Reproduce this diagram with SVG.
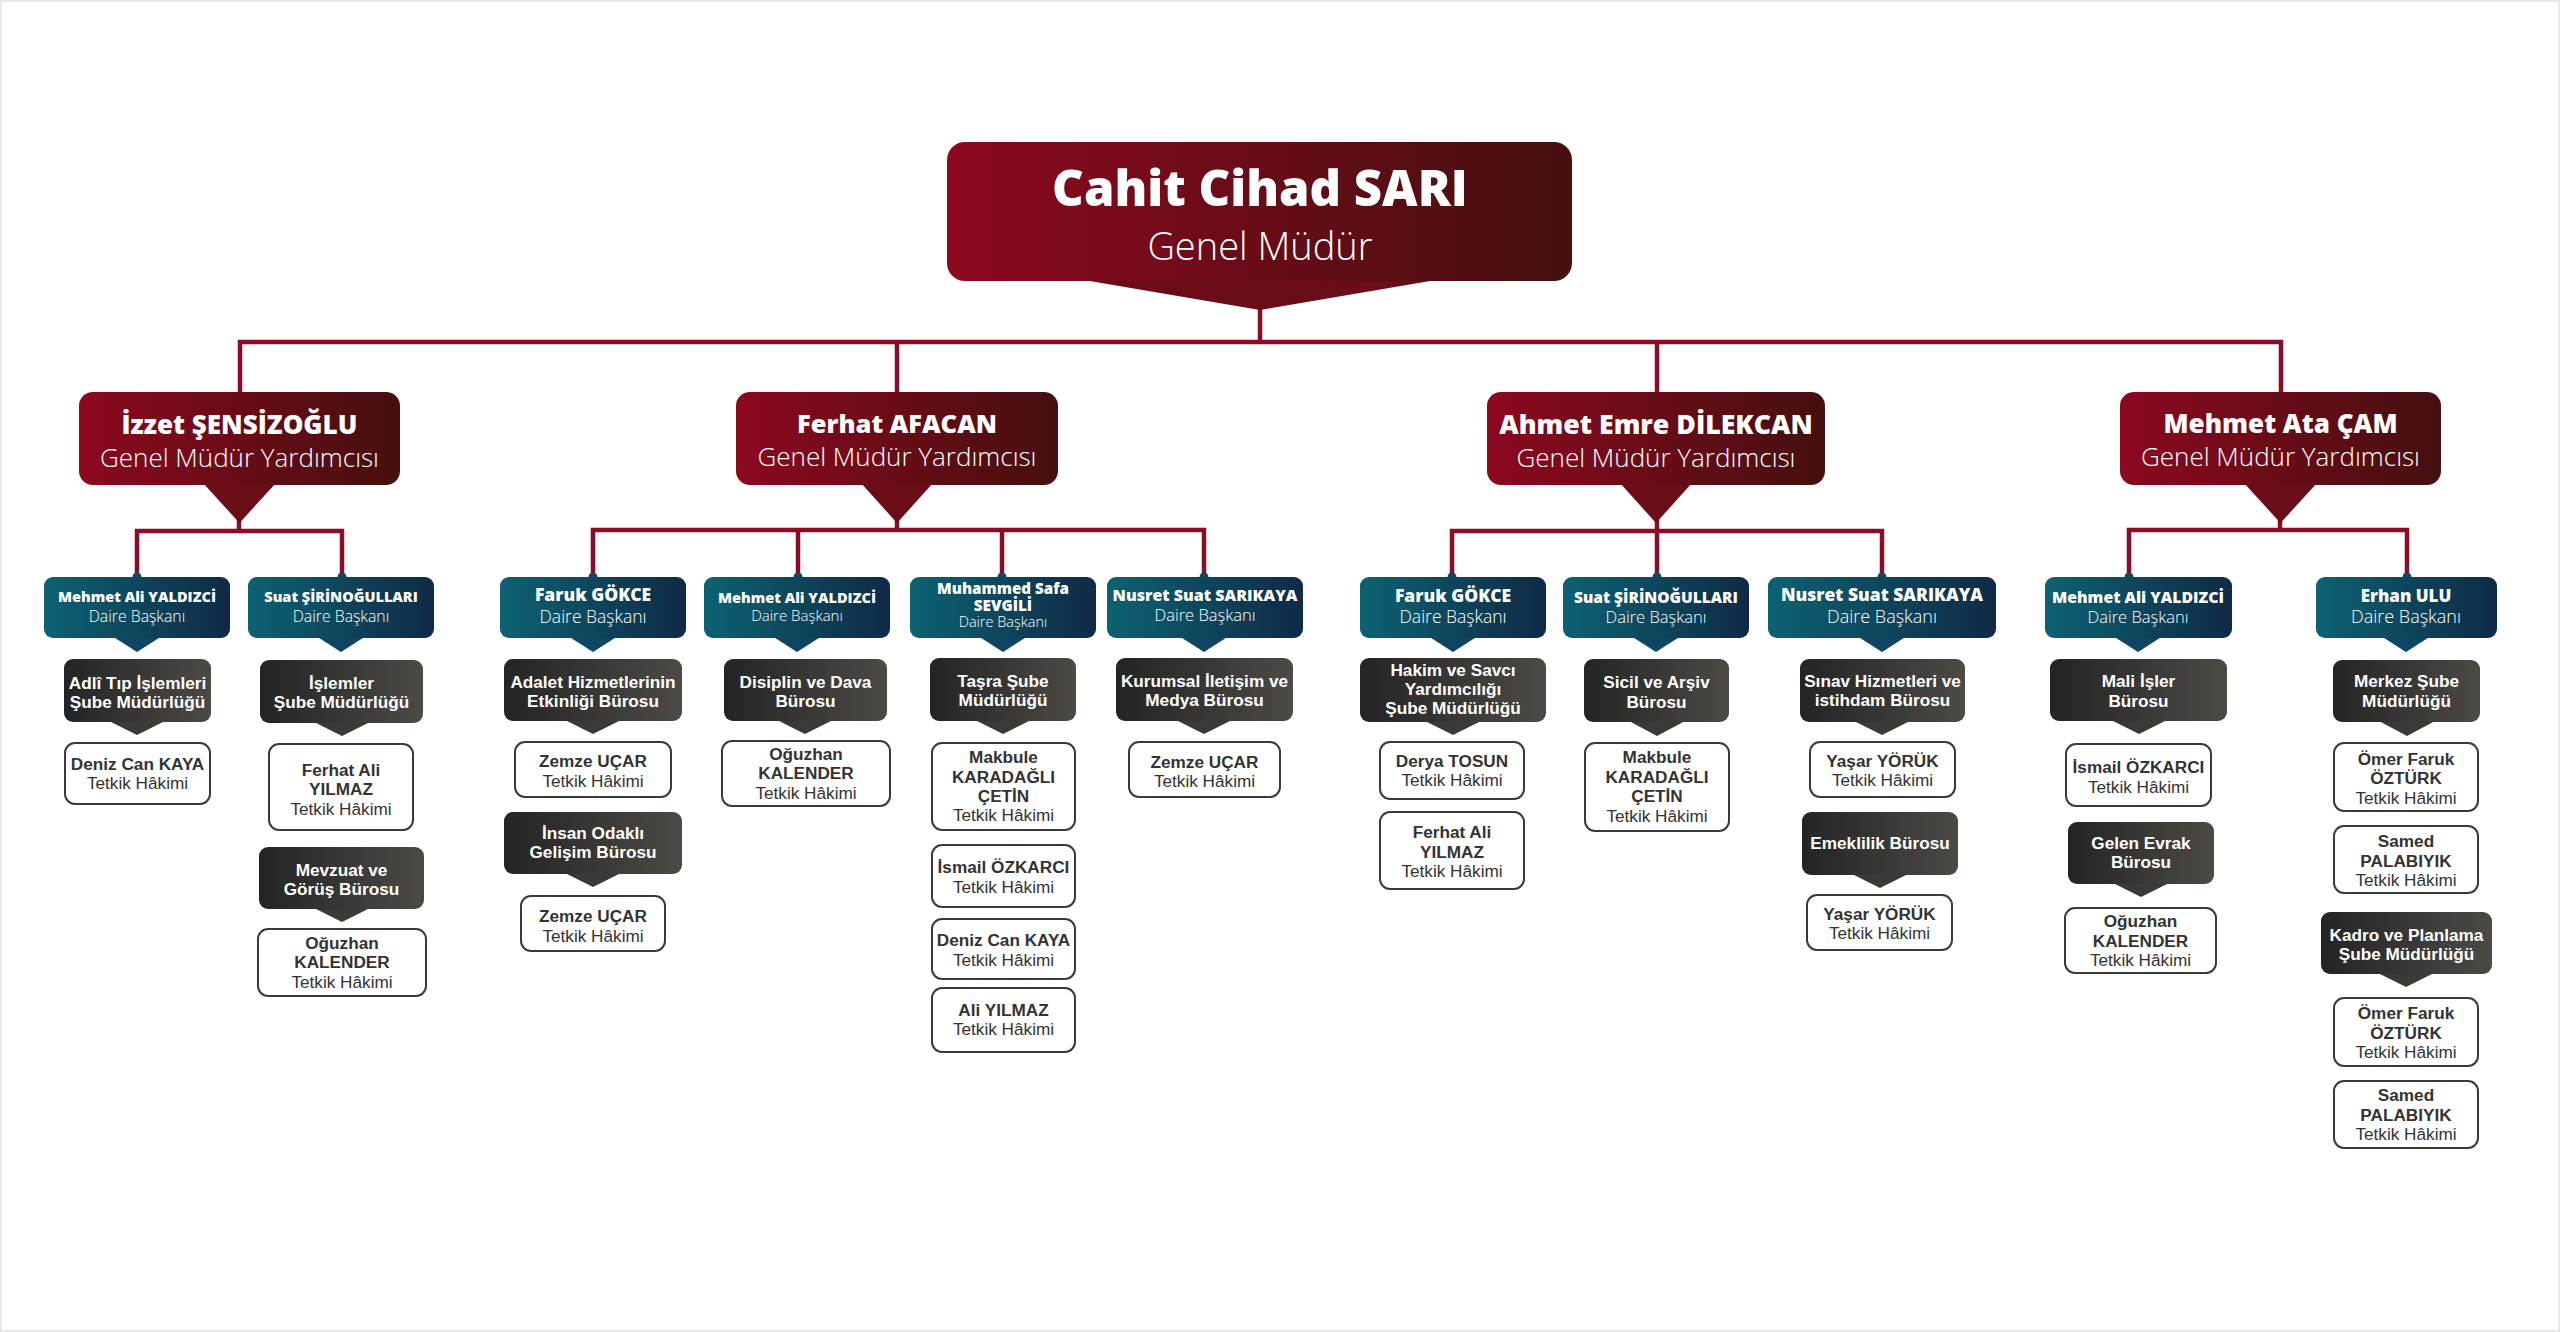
<svg xmlns="http://www.w3.org/2000/svg" width="2560" height="1332" viewBox="0 0 2560 1332">
<defs>
<linearGradient id="gRed" x1="0" y1="0" x2="1" y2="0"><stop offset="0" stop-color="#8c0820"/><stop offset="1" stop-color="#45100f"/></linearGradient>
<linearGradient id="gTeal" x1="0" y1="0" x2="1" y2="0"><stop offset="0" stop-color="#0c6272"/><stop offset="1" stop-color="#0f2a46"/></linearGradient>
<linearGradient id="gDark" x1="0" y1="0" x2="1" y2="0"><stop offset="0" stop-color="#242424"/><stop offset="1" stop-color="#4b4a45"/></linearGradient>
</defs>
<style>
.ln{fill:none;stroke:#8b0c24;stroke-width:4.5;stroke-linejoin:miter}
.dot{fill:#0f4a5e}
.red rect{fill:url(#gRed)}
.red polygon{fill:#6a0d18}
.teal rect{fill:url(#gTeal)}
.teal polygon{fill:#0e4560}
.dk rect{fill:url(#gDark)}
.dk polygon{fill:#3a3a37}
.wb rect{fill:#fff;stroke:#3a3a3a;stroke-width:2}
.nm{font-family:"Open Sans","Lato","DejaVu Sans",sans-serif;font-weight:800;fill:#fff;text-anchor:middle}
.sb{font-family:"Open Sans","Lato","DejaVu Sans",sans-serif;font-weight:300;fill:#fff;text-anchor:middle}
.bt{font-family:"Liberation Sans",Arial,sans-serif;font-size:17.2px;text-anchor:middle}
.dk text{fill:#fff;font-weight:bold}
.wb .n{fill:#333;font-weight:bold}
.wb .s{fill:#333}
</style>
<rect x="0" y="0" width="2560" height="1332" fill="#fff" stroke="#e8e8e8" stroke-width="4"/>

<g id="connectors">
<path class="ln" d="M1260,300 V342"/>
<path class="ln" d="M240,392 V342 H2281 V392"/>
<path class="ln" d="M897,342 V392"/>
<path class="ln" d="M1657,342 V392"/>
<path class="ln" d="M239,480 V531"/>
<path class="ln" d="M137,577 V531 H342 V577"/>
<path class="ln" d="M897,480 V530"/>
<path class="ln" d="M593,577 V530 H1204 V577"/>
<path class="ln" d="M798,530 V577"/>
<path class="ln" d="M1002,530 V577"/>
<path class="ln" d="M1657,480 V531"/>
<path class="ln" d="M1452,577 V531 H1882 V577"/>
<path class="ln" d="M1657,531 V577"/>
<path class="ln" d="M2280,480 V530"/>
<path class="ln" d="M2129,577 V530 H2407 V577"/>
</g>

<g id="n-gm" class="red">
<polygon points="1078,279 1260,310 1442,279"/>
<rect x="947" y="142" width="625" height="139" rx="18"/>
<text class="nm" x="1260" y="206" font-size="49">Cahit Cihad SARI</text>
<text class="sb" x="1260" y="260" font-size="38">Genel Müdür</text>
</g>

<g id="n-izzet" class="red">
<polygon points="203,483 239.5,523 276,483"/>
<rect x="79" y="392" width="321" height="93" rx="14"/>
<text class="nm" x="239.5" y="434" font-size="26">İzzet ŞENSİZOĞLU</text>
<text class="sb" x="239.5" y="467" font-size="26">Genel Müdür Yardımcısı</text>
</g>
<g id="n-ferhat" class="red">
<polygon points="861,483 897,523 933,483"/>
<rect x="736" y="392" width="322" height="93" rx="14"/>
<text class="nm" x="897" y="433" font-size="25.5">Ferhat AFACAN</text>
<text class="sb" x="897" y="466" font-size="26">Genel Müdür Yardımcısı</text>
</g>
<g id="n-ahmet" class="red">
<polygon points="1620,483 1656,523 1692,483"/>
<rect x="1487" y="392" width="338" height="93" rx="14"/>
<text class="nm" x="1656" y="434" font-size="26.7">Ahmet Emre DİLEKCAN</text>
<text class="sb" x="1656" y="467" font-size="26">Genel Müdür Yardımcısı</text>
</g>
<g id="n-mehmetata" class="red">
<polygon points="2244,483 2280.5,523 2317,483"/>
<rect x="2120" y="392" width="321" height="93" rx="14"/>
<text class="nm" x="2280.5" y="433" font-size="26">Mehmet Ata ÇAM</text>
<text class="sb" x="2280.5" y="466" font-size="26">Genel Müdür Yardımcısı</text>
</g>

<g id="dots">
<circle class="dot" cx="137" cy="577" r="4.5"/><circle class="dot" cx="342" cy="577" r="4.5"/>
<circle class="dot" cx="593" cy="577" r="4.5"/><circle class="dot" cx="798" cy="577" r="4.5"/>
<circle class="dot" cx="1002" cy="577" r="4.5"/><circle class="dot" cx="1204" cy="577" r="4.5"/>
<circle class="dot" cx="1452" cy="577" r="4.5"/><circle class="dot" cx="1657" cy="577" r="4.5"/>
<circle class="dot" cx="1882" cy="577" r="4.5"/><circle class="dot" cx="2129" cy="577" r="4.5"/>
<circle class="dot" cx="2407" cy="577" r="4.5"/>
</g>

<g id="db1" class="teal"><polygon points="112,636 137,652 162,636"/><rect x="44" y="577" width="186" height="61" rx="9"/>
<text class="nm" x="137" y="602" font-size="14.5">Mehmet Ali YALDIZCİ</text><text class="sb" x="137" y="622" font-size="15.8">Daire Başkanı</text></g>
<g id="db2" class="teal"><polygon points="316,636 341,652 366,636"/><rect x="248" y="577" width="186" height="61" rx="9"/>
<text class="nm" x="341" y="602" font-size="14.5">Suat ŞİRİNOĞULLARI</text><text class="sb" x="341" y="622" font-size="15.8">Daire Başkanı</text></g>
<g id="db3" class="teal"><polygon points="568,636 593,652 618,636"/><rect x="500" y="577" width="186" height="61" rx="9"/>
<text class="nm" x="593" y="601" font-size="17.5">Faruk GÖKCE</text><text class="sb" x="593" y="623" font-size="17.5">Daire Başkanı</text></g>
<g id="db4" class="teal"><polygon points="772,636 797,652 822,636"/><rect x="704" y="577" width="186" height="61" rx="9"/>
<text class="nm" x="797" y="603" font-size="14.5">Mehmet Ali YALDIZCİ</text><text class="sb" x="797" y="621" font-size="15">Daire Başkanı</text></g>
<g id="db5" class="teal"><polygon points="978,636 1003,652 1028,636"/><rect x="910" y="577" width="186" height="61" rx="9"/>
<text class="nm" x="1003" y="594" font-size="15.2">Muhammed Safa</text><text class="nm" x="1003" y="611" font-size="15.2">SEVGİLİ</text><text class="sb" x="1003" y="627" font-size="14.5">Daire Başkanı</text></g>
<g id="db6" class="teal"><polygon points="1179,636 1204,652 1229,636"/><rect x="1107" y="577" width="196" height="61" rx="9"/>
<text class="nm" x="1205" y="601" font-size="16">Nusret Suat SARIKAYA</text><text class="sb" x="1205" y="621" font-size="16.5">Daire Başkanı</text></g>
<g id="db7" class="teal"><polygon points="1428,636 1453,652 1478,636"/><rect x="1360" y="577" width="186" height="61" rx="9"/>
<text class="nm" x="1453" y="602" font-size="17.5">Faruk GÖKCE</text><text class="sb" x="1453" y="623" font-size="17.5">Daire Başkanı</text></g>
<g id="db8" class="teal"><polygon points="1631,636 1656,652 1681,636"/><rect x="1563" y="577" width="186" height="61" rx="9"/>
<text class="nm" x="1656" y="603" font-size="15.5">Suat ŞİRİNOĞULLARI</text><text class="sb" x="1656" y="623" font-size="16.5">Daire Başkanı</text></g>
<g id="db9" class="teal"><polygon points="1857,636 1882,652 1907,636"/><rect x="1768" y="577" width="228" height="61" rx="9"/>
<text class="nm" x="1882" y="601" font-size="17.5">Nusret Suat SARIKAYA</text><text class="sb" x="1882" y="623" font-size="18">Daire Başkanı</text></g>
<g id="db10" class="teal"><polygon points="2113,636 2138,652 2163,636"/><rect x="2045" y="577" width="187" height="61" rx="9"/>
<text class="nm" x="2138" y="603" font-size="15.8">Mehmet Ali YALDIZCİ</text><text class="sb" x="2138" y="623" font-size="16.5">Daire Başkanı</text></g>
<g id="db11" class="teal"><polygon points="2381,636 2406,652 2431,636"/><rect x="2316" y="577" width="181" height="61" rx="9"/>
<text class="nm" x="2406" y="602" font-size="17">Erhan ULU</text><text class="sb" x="2406" y="623" font-size="18">Daire Başkanı</text></g>

<g id="d1" class="dk bt"><polygon points="109,721 137,735 165,721"/><rect x="64" y="659" width="147" height="63" rx="9"/><text x="137.5" y="689">Adlî Tıp İşlemleri</text><text x="137.5" y="708">Şube Müdürlüğü</text></g>
<g id="w1" class="wb bt"><rect x="65" y="743" width="145" height="61" rx="10"/><text class="n" x="137.5" y="770">Deniz Can KAYA</text><text class="s" x="137.5" y="789">Tetkik Hâkimi</text></g>
<g id="d2" class="dk bt"><polygon points="314,722 342,736 370,722"/><rect x="260" y="660" width="163" height="63" rx="9"/><text x="341.5" y="689">İşlemler</text><text x="341.5" y="708">Şube Müdürlüğü</text></g>
<g id="w2" class="wb bt"><rect x="269" y="744" width="144" height="86" rx="10"/><text class="n" x="341" y="776">Ferhat Ali</text><text class="n" x="341" y="795">YILMAZ</text><text class="s" x="341" y="815">Tetkik Hâkimi</text></g>
<g id="d3" class="dk bt"><polygon points="314,908 342,922 370,908"/><rect x="259" y="847" width="165" height="62" rx="9"/><text x="341.5" y="876">Mevzuat ve</text><text x="341.5" y="895">Görüş Bürosu</text></g>
<g id="w3" class="wb bt"><rect x="258" y="929" width="168" height="67" rx="10"/><text class="n" x="342" y="949">Oğuzhan</text><text class="n" x="342" y="968">KALENDER</text><text class="s" x="342" y="988">Tetkik Hâkimi</text></g>

<g id="d4" class="dk bt"><polygon points="565,720 593,734 621,720"/><rect x="504" y="659" width="178" height="62" rx="9"/><text x="593" y="688">Adalet Hizmetlerinin</text><text x="593" y="707">Etkinliği Bürosu</text></g>
<g id="w4" class="wb bt"><rect x="515" y="742" width="156" height="55" rx="10"/><text class="n" x="593" y="767">Zemze UÇAR</text><text class="s" x="593" y="787">Tetkik Hâkimi</text></g>
<g id="d5" class="dk bt"><polygon points="565,873 593,887 621,873"/><rect x="504" y="812" width="178" height="62" rx="9"/><text x="593" y="839">İnsan Odaklı</text><text x="593" y="858">Gelişim Bürosu</text></g>
<g id="w5" class="wb bt"><rect x="521" y="896" width="144" height="55" rx="10"/><text class="n" x="593" y="922">Zemze UÇAR</text><text class="s" x="593" y="942">Tetkik Hâkimi</text></g>
<g id="d6" class="dk bt"><polygon points="777,720 805,734 833,720"/><rect x="724" y="659" width="163" height="62" rx="9"/><text x="805.5" y="688">Disiplin ve Dava</text><text x="805.5" y="707">Bürosu</text></g>
<g id="w6" class="wb bt"><rect x="722" y="741" width="168" height="65" rx="10"/><text class="n" x="806" y="760">Oğuzhan</text><text class="n" x="806" y="779">KALENDER</text><text class="s" x="806" y="799">Tetkik Hâkimi</text></g>
<g id="d7" class="dk bt"><polygon points="975,720 1003,734 1031,720"/><rect x="930" y="658" width="146" height="63" rx="9"/><text x="1003" y="687">Taşra Şube</text><text x="1003" y="706">Müdürlüğü</text></g>
<g id="w7" class="wb bt"><rect x="932" y="743" width="143" height="87" rx="10"/><text class="n" x="1003.5" y="763">Makbule</text><text class="n" x="1003.5" y="783">KARADAĞLI</text><text class="n" x="1003.5" y="802">ÇETİN</text><text class="s" x="1003.5" y="821">Tetkik Hâkimi</text></g>
<g id="w8" class="wb bt"><rect x="932" y="845" width="143" height="62" rx="10"/><text class="n" x="1003.5" y="873">İsmail ÖZKARCI</text><text class="s" x="1003.5" y="893">Tetkik Hâkimi</text></g>
<g id="w9" class="wb bt"><rect x="932" y="919" width="143" height="60" rx="10"/><text class="n" x="1003.5" y="946">Deniz Can KAYA</text><text class="s" x="1003.5" y="966">Tetkik Hâkimi</text></g>
<g id="w10" class="wb bt"><rect x="932" y="988" width="143" height="64" rx="10"/><text class="n" x="1003.5" y="1016">Ali YILMAZ</text><text class="s" x="1003.5" y="1035">Tetkik Hâkimi</text></g>
<g id="d8" class="dk bt"><polygon points="1176,720 1204,734 1232,720"/><rect x="1116" y="658" width="177" height="63" rx="9"/><text x="1204.5" y="687">Kurumsal İletişim ve</text><text x="1204.5" y="706">Medya Bürosu</text></g>
<g id="w11" class="wb bt"><rect x="1129" y="742" width="151" height="55" rx="10"/><text class="n" x="1204.5" y="768">Zemze UÇAR</text><text class="s" x="1204.5" y="787">Tetkik Hâkimi</text></g>

<g id="d9" class="dk bt"><polygon points="1425,721 1453,735 1481,721"/><rect x="1360" y="658" width="186" height="64" rx="9"/><text x="1453" y="676">Hakim ve Savcı</text><text x="1453" y="695">Yardımcılığı</text><text x="1453" y="714">Şube Müdürlüğü</text></g>
<g id="w12" class="wb bt"><rect x="1380" y="742" width="144" height="57" rx="10"/><text class="n" x="1452" y="767">Derya TOSUN</text><text class="s" x="1452" y="786">Tetkik Hâkimi</text></g>
<g id="w13" class="wb bt"><rect x="1380" y="812" width="144" height="77" rx="10"/><text class="n" x="1452" y="838">Ferhat Ali</text><text class="n" x="1452" y="858">YILMAZ</text><text class="s" x="1452" y="877">Tetkik Hâkimi</text></g>
<g id="d10" class="dk bt"><polygon points="1629,721 1657,736 1685,721"/><rect x="1584" y="659" width="145" height="63" rx="9"/><text x="1656.5" y="688">Sicil ve Arşiv</text><text x="1656.5" y="708">Bürosu</text></g>
<g id="w14" class="wb bt"><rect x="1585" y="743" width="144" height="88" rx="10"/><text class="n" x="1657" y="763">Makbule</text><text class="n" x="1657" y="783">KARADAĞLI</text><text class="n" x="1657" y="802">ÇETİN</text><text class="s" x="1657" y="822">Tetkik Hâkimi</text></g>
<g id="d11" class="dk bt"><polygon points="1854,721 1882,735 1910,721"/><rect x="1800" y="659" width="165" height="63" rx="9"/><text x="1882.5" y="687">Sınav Hizmetleri ve</text><text x="1882.5" y="706">istihdam Bürosu</text></g>
<g id="w15" class="wb bt"><rect x="1810" y="742" width="145" height="55" rx="10"/><text class="n" x="1882.5" y="767">Yaşar YÖRÜK</text><text class="s" x="1882.5" y="786">Tetkik Hâkimi</text></g>
<g id="d12" class="dk bt"><polygon points="1852,874 1880,888 1908,874"/><rect x="1802" y="812" width="156" height="63" rx="9"/><text x="1880" y="849">Emeklilik Bürosu</text></g>
<g id="w16" class="wb bt"><rect x="1807" y="895" width="145" height="55" rx="10"/><text class="n" x="1879.5" y="920">Yaşar YÖRÜK</text><text class="s" x="1879.5" y="939">Tetkik Hâkimi</text></g>

<g id="d13" class="dk bt"><polygon points="2111,720 2139,734 2167,720"/><rect x="2050" y="659" width="177" height="62" rx="9"/><text x="2138.5" y="687">Mali İşler</text><text x="2138.5" y="707">Bürosu</text></g>
<g id="w17" class="wb bt"><rect x="2066" y="744" width="145" height="62" rx="10"/><text class="n" x="2138.5" y="773">İsmail ÖZKARCI</text><text class="s" x="2138.5" y="793">Tetkik Hâkimi</text></g>
<g id="d14" class="dk bt"><polygon points="2113,883 2141,897 2169,883"/><rect x="2068" y="822" width="146" height="62" rx="9"/><text x="2141" y="849">Gelen Evrak</text><text x="2141" y="868">Bürosu</text></g>
<g id="w18" class="wb bt"><rect x="2065" y="908" width="151" height="65" rx="10"/><text class="n" x="2140.5" y="927">Oğuzhan</text><text class="n" x="2140.5" y="947">KALENDER</text><text class="s" x="2140.5" y="966">Tetkik Hâkimi</text></g>
<g id="d15" class="dk bt"><polygon points="2379,721 2407,736 2435,721"/><rect x="2333" y="660" width="147" height="62" rx="9"/><text x="2406.5" y="687">Merkez Şube</text><text x="2406.5" y="707">Müdürlüğü</text></g>
<g id="w19" class="wb bt"><rect x="2334" y="743" width="144" height="68" rx="10"/><text class="n" x="2406" y="765">Ömer Faruk</text><text class="n" x="2406" y="784">ÖZTÜRK</text><text class="s" x="2406" y="804">Tetkik Hâkimi</text></g>
<g id="w20" class="wb bt"><rect x="2334" y="826" width="144" height="67" rx="10"/><text class="n" x="2406" y="847">Samed</text><text class="n" x="2406" y="867">PALABIYIK</text><text class="s" x="2406" y="886">Tetkik Hâkimi</text></g>
<g id="d16" class="dk bt"><polygon points="2378,973 2406,987 2434,973"/><rect x="2321" y="912" width="171" height="62" rx="9"/><text x="2406.5" y="941">Kadro ve Planlama</text><text x="2406.5" y="960">Şube Müdürlüğü</text></g>
<g id="w21" class="wb bt"><rect x="2334" y="998" width="144" height="68" rx="10"/><text class="n" x="2406" y="1019">Ömer Faruk</text><text class="n" x="2406" y="1039">ÖZTÜRK</text><text class="s" x="2406" y="1058">Tetkik Hâkimi</text></g>
<g id="w22" class="wb bt"><rect x="2334" y="1081" width="144" height="67" rx="10"/><text class="n" x="2406" y="1101">Samed</text><text class="n" x="2406" y="1121">PALABIYIK</text><text class="s" x="2406" y="1140">Tetkik Hâkimi</text></g>
</svg>
